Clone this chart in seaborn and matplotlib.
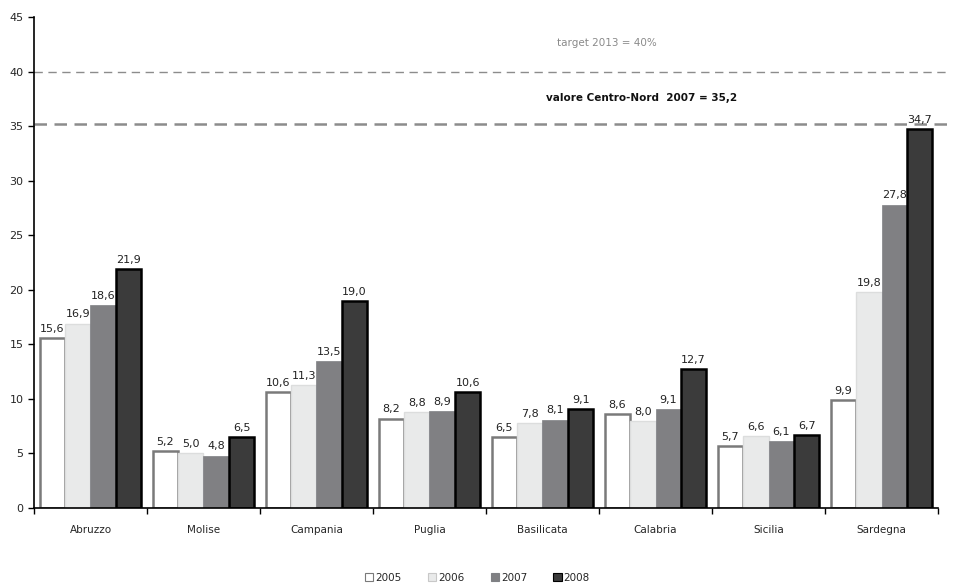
import numpy as np
import pandas as pd
from matplotlib import pyplot as plt
import seaborn as sns

# data
regions = ['Abruzzo', 'Molise', 'Campania', 'Puglia', 'Basilicata', 'Calabria', 'Sicilia', 'Sardegna']
years = ['2005', '2006', '2007', '2008']
v2005 = [15.6, 5.2, 10.6, 8.2, 6.5, 8.6, 5.7, 9.9]
v2006 = [16.9, 5.0, 11.3, 8.8, 7.8, 8.0, 6.6, 19.8]
v2007 = [18.6, 4.8, 13.5, 8.9, 8.1, 9.1, 6.1, 27.8]
v2008 = [21.9, 6.5, 19.0, 10.6, 9.1, 12.7, 6.7, 34.7]
target = 40
centro_nord = 35.2

df = pd.DataFrame({'Regione': regions * 4,
                   'Anno': np.repeat(years, len(regions)),
                   'Valore': v2005 + v2006 + v2007 + v2008})

sns.set_style('white')
plt.rcParams['font.family'] = ['DejaVu Sans']

fills = ['#ffffff', '#e9eaea', '#7f8084', '#3b3b3b']
edges = ['#7a7a7a', '#dcdddd', '#7f8084', '#000000']
lws = [1.8, 1.0, 0.5, 1.8]

fig = plt.figure(figsize=(9.55, 5.85), dpi=100)
ax = fig.add_axes([0.0356, 0.1316, 0.9466, 0.8394])
sns.barplot(data=df, x='Regione', y='Valore', hue='Anno', palette=fills,
            width=0.9, ax=ax, legend=True)

for cont, ec, lw in zip(ax.containers, edges, lws):
    for bar in cont:
        bar.set_edgecolor(ec)
        bar.set_linewidth(lw)
    labels = [f'{v:.1f}'.replace('.', ',') for v in cont.datavalues]
    ax.bar_label(cont, labels=labels, padding=3, fontsize=8, color='#222222')

# reference lines
ax.axhline(target, color='#8c8c8c', lw=1.0, ls=(0, (6, 4)), xmax=1.013, clip_on=False, zorder=0)
ax.axhline(centro_nord, color='#8c8c8c', lw=1.8, ls=(0, (5, 3)), xmax=1.013, clip_on=False, zorder=0)
ax.text(4.57, 42.6, 'target 2013 = 40%', color='#8a8a8a', fontsize=7.5, ha='center', va='center')
ax.text(4.03, 37.6, 'valore Centro-Nord  2007 = 35,2', color='#111111', fontsize=7.5,
        ha='left', va='center', fontweight='bold')

ax.set_xlim(-0.5, len(regions) - 0.5)
ax.set_ylim(0, 45)
ax.set_yticks(range(0, 46, 5))
ax.set_xticks(np.arange(-0.5, len(regions), 1.0))
ax.set_xticklabels([])
ax.set_xticks(range(len(regions)), minor=True)
ax.set_xticklabels(regions, minor=True, fontsize=7.5)
ax.tick_params(axis='x', which='major', direction='out', length=4, width=1, color='black', bottom=True)
ax.tick_params(axis='x', which='minor', length=0, pad=12)
ax.tick_params(axis='y', direction='out', length=4, width=1, color='black', left=True, labelsize=8)
ax.set_xlabel('')
ax.set_ylabel('')
sns.despine(ax=ax)
for s in ['left', 'bottom']:
    ax.spines[s].set_color('black')
    ax.spines[s].set_linewidth(1.2)

handles, labs = ax.get_legend_handles_labels()
ax.legend_.remove()
for h, ec in zip(handles, edges):
    h.set_edgecolor(ec if ec != '#dcdddd' else '#c8c8c8')
    h.set_linewidth(0.8)
fig.legend(handles, labs, loc='lower center', bbox_to_anchor=(0.5, -0.012), ncol=4,
           frameon=False, fontsize=7.5, handlelength=0.8, handleheight=0.8,
           handletextpad=0.2, columnspacing=2.5)

fig.savefig('out.png', dpi=100)
